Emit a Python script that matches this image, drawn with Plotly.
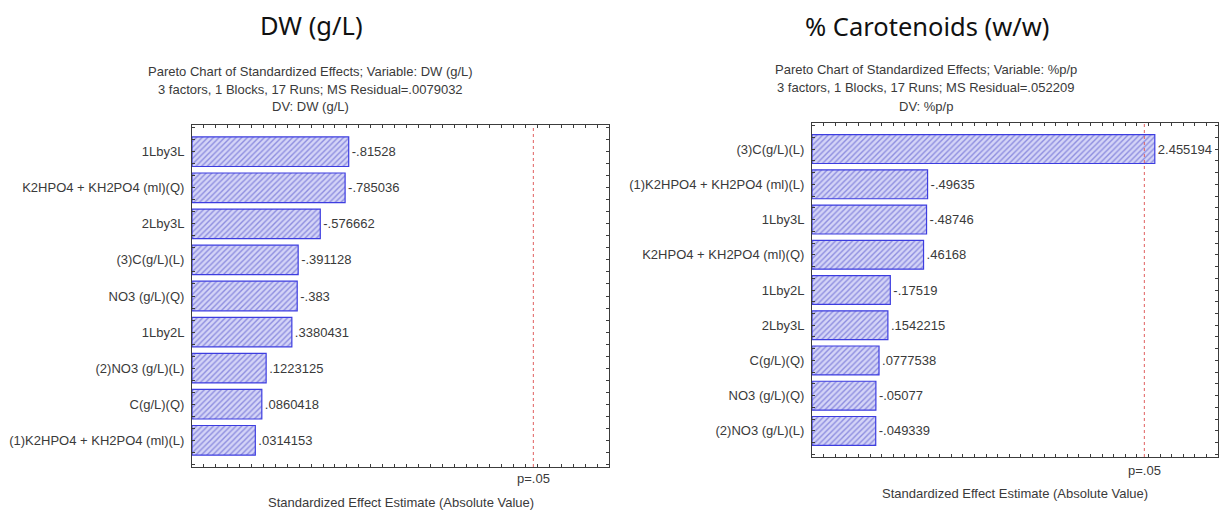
import plotly.graph_objects as go

W, H = 1221, 515

# ---------------- data ----------------
dw_terms = ["1Lby3L", "K2HPO4 + KH2PO4 (ml)(Q)", "2Lby3L", "(3)C(g/L)(L)", "NO3 (g/L)(Q)",
            "1Lby2L", "(2)NO3 (g/L)(L)", "C(g/L)(Q)", "(1)K2HPO4 + KH2PO4 (ml)(L)"]
dw_effects = [-0.81528, -0.785036, -0.576662, -0.391128, -0.383,
              0.3380431, 0.1223125, 0.0860418, 0.0314153]

car_terms = ["(3)C(g/L)(L)", "(1)K2HPO4 + KH2PO4 (ml)(L)", "1Lby3L", "K2HPO4 + KH2PO4 (ml)(Q)",
             "1Lby2L", "2Lby3L", "C(g/L)(Q)", "NO3 (g/L)(Q)", "(2)NO3 (g/L)(L)"]
car_effects = [2.455194, -0.49635, -0.48746, 0.46168,
               -0.17519, 0.1542215, 0.0777538, -0.05077, -0.049339]

t_crit = 2.365          # p=.05 threshold
x_min, x_max = -0.5, 3.0

main_titles = ["DW (g/L)", "% Carotenoids (w/w)"]
sub_titles = [
    ["Pareto Chart of Standardized Effects; Variable: DW (g/L)",
     "3 factors, 1 Blocks, 17 Runs; MS Residual=.0079032",
     "DV: DW (g/L)"],
    ["Pareto Chart of Standardized Effects; Variable: %p/p",
     "3 factors, 1 Blocks, 17 Runs; MS Residual=.052209",
     "DV: %p/p"],
]
x_title = "Standardized Effect Estimate (Absolute Value)"
p_label = "p=.05"

# ---------------- layout geometry ----------------
def px_x(p):
    return p / W

def px_y(p):
    return 1 - p / H

panels = [
    dict(xd=[px_x(192), px_x(609)], yd=[px_y(467), px_y(125)], tc=311, subc=310,
         ty=25, sy=[71, 89, 107], axty=502, py=478),
    dict(xd=[px_x(812), px_x(1218)], yd=[px_y(457), px_y(123)], tc=927, subc=926,
         ty=26, sy=[70, 88, 106], axty=493, py=470),
]

FONT = "Liberation Sans, Arial, sans-serif"
TXT = "#3a3a3a"
FS = 13

fig = go.Figure()
data_sets = [(dw_terms, dw_effects), (car_terms, car_effects)]

annotations = []
shapes = []
for i, ((terms, effects), pn) in enumerate(zip(data_sets, panels)):
    xa = "x" if i == 0 else "x2"
    ya = "y" if i == 0 else "y2"
    pos = list(range(len(terms)))
    absval = [abs(v) for v in effects]
    labels = [f"{v}".replace("0.", ".", 1) for v in effects]
    fig.add_trace(go.Bar(
        y=pos, x=[a - x_min for a in absval], base=x_min, orientation="h",
        xaxis=xa, yaxis=ya, width=0.82,
        marker=dict(color="#d4d4f7",
                    line=dict(color="#3d3de0", width=1.2),
                    pattern=dict(shape="/", fgcolor="#4646c8", bgcolor="#d4d4f7",
                                 size=4, solidity=0.35)),
        text=labels, textposition="outside", cliponaxis=False,
        textfont=dict(family=FONT, size=FS, color=TXT),
        showlegend=False, hoverinfo="skip",
    ))
    # y tick values every third of a category, labels at the bars
    n = len(terms)
    tv, tt = [], []
    k = -2
    while k <= 3 * (n - 1) + 2:
        tv.append(k / 3)
        tt.append(terms[k // 3] if k % 3 == 0 else "")
        k += 1
    axis_common = dict(showline=True, linecolor="#3c3c3c", linewidth=1, mirror="allticks",
                       ticks="inside", ticklen=3, tickcolor="#3c3c3c", zeroline=False,
                       showgrid=False)
    fig.update_layout(**{
        ("xaxis" if i == 0 else "xaxis2"): dict(
            domain=pn["xd"], range=[x_min, x_max], anchor=ya, dtick=0.1, tick0=0,
            showticklabels=False, **axis_common),
        ("yaxis" if i == 0 else "yaxis2"): dict(
            domain=pn["yd"], range=[n - 1 + 0.74, -0.74], anchor=xa,
            tickmode="array", tickvals=tv, ticktext=tt,
            tickfont=dict(family=FONT, size=FS, color=TXT), ticklabelstandoff=4,
            **axis_common),
    })
    # p=.05 line
    shapes.append(dict(type="line", xref=xa, yref=f"{ya} domain", x0=t_crit, x1=t_crit,
                       y0=0, y1=1, line=dict(color="#e06060", width=1, dash="dot")))
    annotations.append(dict(text=p_label, xref=xa, yref="paper", x=t_crit, y=px_y(pn["py"]),
                            showarrow=False, yanchor="middle", xanchor="center",
                            font=dict(family=FONT, size=FS, color=TXT)))
    # titles
    annotations.append(dict(text=main_titles[i], xref="paper", yref="paper",
                            x=px_x(pn["tc"]), y=px_y(pn["ty"]), showarrow=False,
                            xanchor="center", yanchor="middle",
                            font=dict(family="Noto Sans, Open Sans, sans-serif", size=25.5,
                                      color="#111111")))
    for line, yy in zip(sub_titles[i], pn["sy"]):
        annotations.append(dict(text=line, xref="paper", yref="paper",
                                x=px_x(pn["subc"]), y=px_y(yy), showarrow=False,
                                xanchor="center", yanchor="middle",
                                font=dict(family=FONT, size=FS, color=TXT)))
    annotations.append(dict(text=x_title, xref=f"{xa} domain", yref="paper", x=0.5,
                            y=px_y(pn["axty"]), showarrow=False, xanchor="center",
                            yanchor="middle", font=dict(family=FONT, size=FS, color=TXT)))

fig.update_layout(
    width=W, height=H, margin=dict(l=0, r=0, t=0, b=0),
    paper_bgcolor="white", plot_bgcolor="white",
    annotations=annotations, shapes=shapes, bargap=0.18,
)

fig.write_html("out.html", config={"displayModeBar": False},
               post_script="document.body.style.margin='0';document.body.style.overflow='hidden';")
